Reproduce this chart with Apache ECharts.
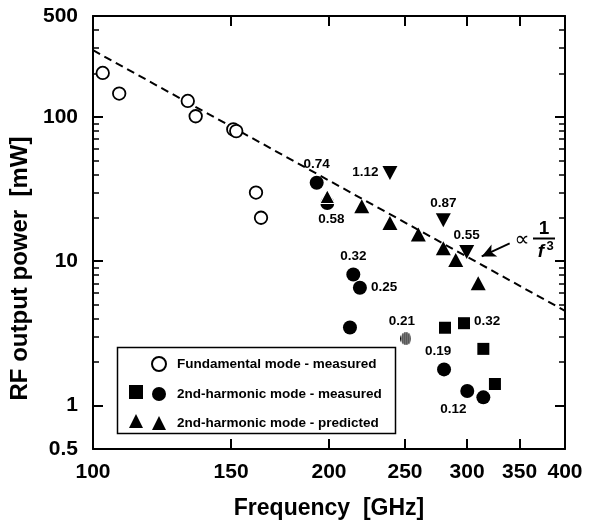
<!DOCTYPE html>
<html><head><meta charset="utf-8">
<script src="https://cdn.jsdelivr.net/npm/echarts@6/dist/echarts.min.js"></script>
<style>html,body{margin:0;padding:0;background:#fff}#c{width:593px;height:525px}</style>
</head><body><div id="c"></div>
<script>
// ---- data ----
const xTickLabels = [100, 150, 200, 250, 300, 350, 400];
const xTicks = [150, 200, 250, 300, 350];
const yTickLabels = [0.5, 1, 10, 100, 500];
const yMajorTicks = [1, 10, 100];
const yMinorTicks = [2, 3, 4, 5, 6, 7, 8, 9, 20, 30, 40, 50, 60, 70, 80, 90, 200, 300, 400];

const fundamental = [[102.9, 201.6], [108.0, 145.1], [132.1, 128.9], [135.2, 101.0], [151.0, 81.9], [152.3, 79.7], [161.4, 29.9], [163.8, 20.0]];
const harmCircles = [[192.9, 35.0], [199.0, 25.3], [214.8, 8.10], [219.0, 6.55], [212.7, 3.47], [280.4, 1.78], [300.2, 1.26], [314.7, 1.14]];
const harmCircleLabels = ['0.74', '0.58', '0.32', '0.25', '', '0.19', '0.12', ''];
const harmSquares = [[281.2, 3.46], [297.3, 3.72], [314.7, 2.47], [325.6, 1.41]];
const harmSquareLabels = ['', '0.32', '', ''];
const hatched = [[250.7, 2.91]];
const hatchedLabels = ['0.21'];
const predUp = [[199.0, 28.1], [220.2, 24.0], [239.2, 18.4], [260.0, 15.3], [279.8, 12.3], [290.2, 10.2], [310.0, 7.05]];
const predDown = [[239.2, 40.8], [279.8, 19.2], [299.7, 11.6]];
const predDownLabels = ['1.12', '0.87', '0.55'];
const fitLine = [[100, 289.6], [400, 4.53]];
const arrowFrom = [340, 13.3];
const arrowTo = [313.2, 10.8];

const names = {
  fund: 'Fundamental mode - measured',
  circ: '2nd-harmonic mode - measured',
  sq: '2nd-harmonic mode - measured (squares)',
  up: '2nd-harmonic mode - predicted',
  down: '2nd-harmonic mode - predicted (down)'
};

// ---- style ----
const FONT = '"Liberation Sans", Arial, Helvetica, sans-serif';
const lblStyle = {fontFamily: FONT, fontWeight: 'bold', fontSize: 13.5, color: '#000', opacity: 1};
function withLabels(data, labels, pos) {
  return data.map((d, i) => {
    if (!labels[i]) return {value: d};
    const p = pos[i] || {};
    return {value: d, label: Object.assign({show: true, formatter: labels[i], position: p.position || 'top', distance: p.distance == null ? 4 : p.distance, offset: p.offset || [0, 0]}, lblStyle)};
  });
}
const circlePos = [{position: 'top'}, {position: 'bottom', offset: [4, -2]}, {position: 'top'}, {position: 'right'}, null, {position: 'top', offset: [-6, 0]}, {position: 'bottom', offset: [-14, 0]}, null];
const squarePos = [null, {position: 'right', offset: [0, -2]}, null, null];
const hatchPos = [{position: 'top', offset: [-4, 0]}];
const downPos = [{position: 'left', offset: [0, -1]}, {position: 'top', distance: 3}, {position: 'top', distance: 3}];

// hatched-circle marker image
const HW = 11, HH = 13;
const pc = document.createElement('canvas');
pc.width = HW; pc.height = HH;
const g = pc.getContext('2d');
g.save();
g.beginPath(); g.ellipse(HW / 2, HH / 2, HW / 2, HH / 2, 0, 0, Math.PI * 2); g.clip();
g.fillStyle = '#fff'; g.fillRect(0, 0, HW, HH);
g.fillStyle = '#000';
for (let x = 0; x < HW; x += 2) g.fillRect(x, 0, 1.2, HH);
g.restore();
const hatchImg = 'image://' + pc.toDataURL();

// first predicted triangle sits on a filled circle: white outline only there
const upData = predUp.map((d, i) => i === 0 ? {value: d, itemStyle: {borderColor: '#fff', borderWidth: 1.2}} : {value: d});

const axisFont = {fontFamily: FONT, fontWeight: 'bold', fontSize: 21, color: '#000'};
const lineBlack = {color: '#000', width: 2};

const chart = echarts.init(document.getElementById('c'), null, {renderer: 'canvas'});
chart.setOption({
  animation: false,
  backgroundColor: '#fff',
  grid: {left: 93, right: 28, top: 16, bottom: 76, containLabel: false},
  xAxis: [
    {type: 'log', min: 100, max: 400, position: 'bottom',
     axisLine: {show: true, onZero: false, lineStyle: lineBlack},
     axisTick: {show: true, inside: true, length: 10, lineStyle: lineBlack, customValues: xTicks},
     axisLabel: Object.assign({show: true, margin: 13, customValues: xTickLabels}, axisFont),
     splitLine: {show: false}, minorTick: {show: false},
     name: 'Frequency  [GHz]', nameLocation: 'middle', nameGap: 48,
     nameTextStyle: {fontFamily: FONT, fontWeight: 'bold', fontSize: 23, color: '#000'}},
    {type: 'log', min: 100, max: 400, position: 'top',
     axisLine: {show: true, onZero: false, lineStyle: lineBlack},
     axisTick: {show: true, inside: true, length: 10, lineStyle: lineBlack, customValues: xTicks},
     axisLabel: {show: false}, splitLine: {show: false}}
  ],
  yAxis: [
    {type: 'log', min: 0.5, max: 500, position: 'left',
     axisLine: {show: true, onZero: false, lineStyle: lineBlack},
     axisTick: {show: true, inside: true, length: 10, lineStyle: lineBlack, customValues: yMajorTicks},
     axisLabel: Object.assign({show: true, margin: 15, customValues: yTickLabels}, axisFont),
     splitLine: {show: false},
     name: 'RF output power  [mW]', nameLocation: 'middle', nameGap: 53,
     nameTextStyle: {fontFamily: FONT, fontWeight: 'bold', fontSize: 24, color: '#000', padding: [0, 72, 0, 0]}},
    {type: 'log', min: 0.5, max: 500, position: 'left',
     axisLine: {show: false},
     axisTick: {show: true, inside: true, length: 6, lineStyle: {color: '#000', width: 1.5}, customValues: yMinorTicks},
     axisLabel: {show: false}, splitLine: {show: false}},
    {type: 'log', min: 0.5, max: 500, position: 'right',
     axisLine: {show: true, onZero: false, lineStyle: lineBlack},
     axisTick: {show: true, inside: true, length: 10, lineStyle: lineBlack, customValues: yMajorTicks},
     axisLabel: {show: false}, splitLine: {show: false}},
    {type: 'log', min: 0.5, max: 500, position: 'right',
     axisLine: {show: false},
     axisTick: {show: true, inside: true, length: 6, lineStyle: {color: '#000', width: 1.5}, customValues: yMinorTicks},
     axisLabel: {show: false}, splitLine: {show: false}}
  ],
  legend: [
    {orient: 'vertical', left: 151, top: 356, padding: 0, itemWidth: 14, itemHeight: 14, itemGap: 15,
     selectedMode: false,
     textStyle: {fontFamily: FONT, fontWeight: 'bold', fontSize: 13.5, color: '#000', padding: [0, 0, 0, 6]},
     data: [names.fund, names.circ, names.up]},
    {orient: 'vertical', left: 129, top: 385, padding: 0, itemWidth: 14, itemHeight: 14, itemGap: 15,
     selectedMode: false, formatter: function () { return ''; },
     data: [names.sq, names.down]}
  ],
  graphic: [
    {type: 'rect', z: 1, shape: {x: 117.5, y: 347.5, width: 278, height: 86}, style: {fill: '#fff', stroke: '#000', lineWidth: 1.5}},
    {type: 'text', z: 10, x: 522, y: 241, style: {text: '\u221D', fontFamily: '"DejaVu Sans", sans-serif', fontSize: 21, fill: '#000', textAlign: 'center', textVerticalAlign: 'middle'}},
    {type: 'text', z: 10, x: 544, y: 229, style: {text: '1', fontFamily: FONT, fontWeight: 'bold', fontSize: 19, fill: '#000', textAlign: 'center', textVerticalAlign: 'middle'}},
    {type: 'line', z: 10, shape: {x1: 533, y1: 238.5, x2: 555, y2: 238.5}, style: {stroke: '#000', lineWidth: 2}},
    {type: 'text', z: 10, x: 541, y: 252, style: {text: 'f', fontFamily: FONT, fontWeight: 'bold', fontStyle: 'italic', fontSize: 19, fill: '#000', textAlign: 'center', textVerticalAlign: 'middle'}},
    {type: 'text', z: 10, x: 550, y: 246, style: {text: '3', fontFamily: FONT, fontWeight: 'bold', fontSize: 13, fill: '#000', textAlign: 'center', textVerticalAlign: 'middle'}}
  ],
  series: [
    {name: 'fit', type: 'line', xAxisIndex: 0, yAxisIndex: 0, data: fitLine, symbol: 'none', z: 1,
     lineStyle: {color: '#000', width: 2, type: [8, 5]},
     markLine: {silent: true, symbol: ['none', 'arrow'], symbolSize: [10, 14],
       lineStyle: {type: 'solid', color: '#000', width: 1.8, opacity: 1}, label: {show: false},
       data: [[{coord: arrowFrom}, {coord: arrowTo}]]}},
    {name: names.fund, type: 'scatter', data: fundamental, symbol: 'circle', symbolSize: 12.5,
     itemStyle: {color: '#fff', borderColor: '#000', borderWidth: 1.8, opacity: 1}},
    {name: names.sq, type: 'scatter', data: withLabels(harmSquares, harmSquareLabels, squarePos), symbol: 'rect', symbolSize: 12,
     itemStyle: {color: '#000', opacity: 1}},
    {name: names.circ, type: 'scatter', data: withLabels(harmCircles, harmCircleLabels, circlePos), symbol: 'circle', symbolSize: 14,
     itemStyle: {color: '#000', opacity: 1}},
    {name: 'hatched', type: 'scatter', data: withLabels(hatched, hatchedLabels, hatchPos), symbol: hatchImg, symbolSize: [HW, HH],
     itemStyle: {color: '#000', opacity: 1}},
    {name: names.up, type: 'scatter', data: upData, symbol: 'triangle', symbolSize: [15, 14],
     itemStyle: {color: '#000', opacity: 1}},
    {name: names.down, type: 'scatter', data: withLabels(predDown, predDownLabels, downPos), symbol: 'triangle', symbolRotate: 180, symbolSize: [15, 14],
     itemStyle: {color: '#000', opacity: 1}}
  ]
});
</script>
</body></html>
